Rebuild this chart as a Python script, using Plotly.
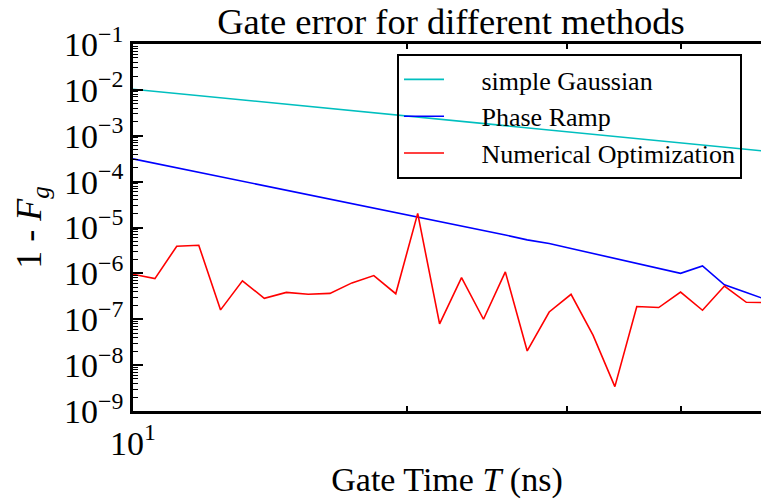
import plotly.graph_objects as go

# Gate time (ns) sample points
gate_time_ns = [10.00, 10.57, 11.17, 11.81, 12.48, 13.19, 13.94, 14.74, 15.58, 16.46,
                17.40, 18.39, 19.44, 20.55, 21.72, 22.96, 24.27, 25.65, 27.11, 28.66,
                30.29, 32.02, 33.84, 35.77, 37.81, 39.96, 42.24, 44.65, 47.19, 49.88]

simple_gaussian = [1.035e-2, 9.29e-3, 8.34e-3, 7.49e-3, 6.72e-3, 6.04e-3, 5.42e-3, 4.87e-3,
                   4.37e-3, 3.92e-3, 3.52e-3, 3.16e-3, 2.84e-3, 2.55e-3, 2.29e-3, 2.06e-3,
                   1.85e-3, 1.66e-3, 1.49e-3, 1.34e-3, 1.20e-3, 1.08e-3, 9.67e-4, 8.69e-4,
                   7.80e-4, 7.00e-4, 6.29e-4, 5.64e-4, 5.07e-4, 4.55e-4]

phase_ramp = [3.14e-4, 2.51e-4, 2.00e-4, 1.60e-4, 1.28e-4, 1.02e-4, 8.14e-5, 6.50e-5,
              5.19e-5, 4.15e-5, 3.31e-5, 2.64e-5, 2.11e-5, 1.69e-5, 1.35e-5, 1.08e-5,
              8.59e-6, 6.86e-6, 5.38e-6, 4.48e-6, 3.49e-6, 2.72e-6, 2.12e-6, 1.65e-6,
              1.29e-6, 1.00e-6, 1.45e-6, 5.64e-7, 3.84e-7, 2.58e-7]

numerical_optimization = [9.6e-7, 7.7e-7, 3.9e-6, 4.1e-6, 1.6e-7, 6.9e-7, 2.85e-7, 3.85e-7,
                          3.5e-7, 3.66e-7, 6.2e-7, 8.96e-7, 3.6e-7, 2.03e-5, 7.9e-8, 8.1e-7,
                          1.0e-7, 1.08e-6, 2.04e-8, 1.44e-7, 3.5e-7, 4.5e-8, 3.4e-9, 1.9e-7,
                          1.8e-7, 3.9e-7, 1.57e-7, 5.3e-7, 2.34e-7, 2.3e-7]

series_names = ["simple Gaussian", "Phase Ramp", "Numerical Optimization"]
series_colors = ["#00BFBF", "#0000FF", "#FF0000"]

y_exponents = [-1, -2, -3, -4, -5, -6, -7, -8, -9]
x_major_ticks = [10]
x_major_labels = ["10<sup>1</sup>"]
x_minor_ticks = [20, 30, 40]

FONT = "Liberation Serif"
NBSP = "\u00a0"

fig = go.Figure()
for name, vals, col in zip(series_names,
                           [simple_gaussian, phase_ramp, numerical_optimization],
                           series_colors):
    fig.add_trace(go.Scatter(x=gate_time_ns, y=vals, mode="lines", name=NBSP * 5 + name,
                             line=dict(color=col, width=1.6)))

y_tickvals = [10.0 ** e for e in y_exponents]
y_ticktext = ["10<sup>\u2212%d</sup>" % (-e) for e in y_exponents]
y_minor = [m * 10.0 ** e for e in range(-9, -1) for m in range(2, 10)]

fig.update_layout(
    width=761, height=499,
    margin=dict(l=133, r=0, t=44, b=88),
    paper_bgcolor="white", plot_bgcolor="white",
    font=dict(family=FONT, color="black"),
    title=dict(text="Gate error for different methods", font=dict(size=36.5, family=FONT),
               x=451 / 761, xanchor="center", xref="container",
               y=1 - 21 / 499, yanchor="middle", yref="container"),
    showlegend=True,
    legend=dict(x=(397 - 133) / 628, y=(411 - 54) / 367, xanchor="left", yanchor="top",
                bgcolor="rgba(0,0,0,0)", bordercolor="black", borderwidth=2,
                font=dict(size=26, family=FONT), itemwidth=40),
)

fig.update_xaxes(
    type="log", range=[1, 1.690],
    tickmode="array", tickvals=x_major_ticks, ticktext=x_major_labels,
    ticks="inside", ticklen=10, tickwidth=2, tickcolor="black",
    tickfont=dict(size=34, family=FONT),
    showline=True, linewidth=2.5, linecolor="black", mirror="allticks",
    showgrid=False, zeroline=False,
    minor=dict(tickmode="array", tickvals=x_minor_ticks, ticks="inside",
               ticklen=5, tickwidth=1.5, tickcolor="black", showgrid=False),
    title=dict(text="Gate Time <i>T</i> (ns)", font=dict(size=34, family=FONT), standoff=10),
)

fig.update_yaxes(
    type="log", range=[-9, -1],
    tickmode="array", tickvals=y_tickvals, ticktext=y_ticktext,
    ticks="inside", ticklen=10, tickwidth=2, tickcolor="black",
    tickfont=dict(size=34, family=FONT),
    showline=True, linewidth=2.5, linecolor="black", mirror=False,
    showgrid=False, zeroline=False,
    minor=dict(tickmode="array", tickvals=y_minor, ticks="inside",
               ticklen=5, tickwidth=1, tickcolor="black", showgrid=False),
    title=dict(text="1 - <i>F</i><sub><i>g</i></sub>", font=dict(size=36, family=FONT),
               standoff=12),
)

fig.write_html("out.html")
